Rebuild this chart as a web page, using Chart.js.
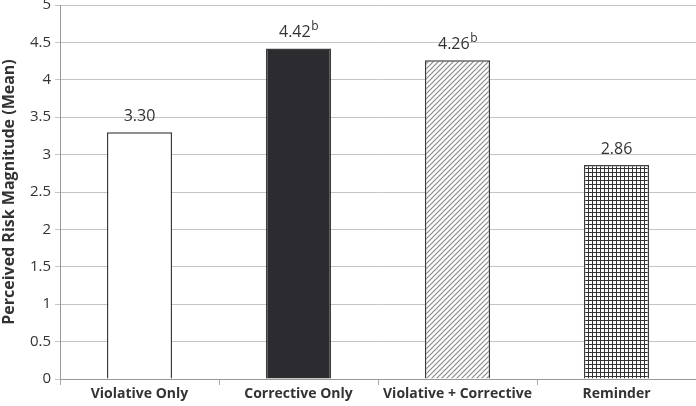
<!DOCTYPE html>
<html>
<head>
<meta charset="utf-8">
<script src="https://cdn.jsdelivr.net/npm/chart.js@4.4.0/dist/chart.umd.min.js"></script>
<style>
  html, body { margin: 0; padding: 0; background: #fff; }
  #wrap { width: 696px; height: 406px; }
</style>
</head>
<body>
<div id="wrap"><canvas id="myChart" width="696" height="406"></canvas></div>
<script>
const categories = ['Violative Only', 'Corrective Only', 'Violative + Corrective', 'Reminder'];
const means = [3.30, 4.42, 4.26, 2.86];
const valueLabels = ['3.30', '4.42', '4.26', '2.86'];
const superscripts = ['', 'b', 'b', ''];
const yTicks = [0, 0.5, 1, 1.5, 2, 2.5, 3, 3.5, 4, 4.5, 5];

const fontFam = '"Open Sans", Lato, sans-serif';

// hatch and grid fills
function hatchPattern() {
    const c = document.createElement('canvas');
    c.width = 5; c.height = 5;
    const g = c.getContext('2d');
    g.fillStyle = '#fff';
    g.fillRect(0, 0, 5, 5);
    g.strokeStyle = '#8a8a8a';
    g.lineWidth = 1.2;
    g.beginPath();
    g.moveTo(-1, 6); g.lineTo(6, -1);
    g.moveTo(-1, 1); g.lineTo(1, -1);
    g.moveTo(4, 6); g.lineTo(6, 4);
    g.stroke();
    return g.createPattern(c, 'repeat');
}
function gridPattern() {
    const c = document.createElement('canvas');
    c.width = 4; c.height = 4;
    const g = c.getContext('2d');
    g.fillStyle = '#fff';
    g.fillRect(0, 0, 4, 4);
    g.fillStyle = '#333';
    g.fillRect(0, 0, 4, 1);
    g.fillRect(0, 0, 1, 4);
    return g.createPattern(c, 'repeat');
}

const labelPlugin = {
    id: 'valueLabels',
    afterDatasetsDraw(chart) {
        const ctx = chart.ctx;
        const meta = chart.getDatasetMeta(0);
        ctx.save();
        meta.data.forEach((bar, i) => {
            const main = valueLabels[i];
            const sup = superscripts[i];
            ctx.font = '16px ' + fontFam;
            const w1 = ctx.measureText(main).width;
            ctx.font = '12px ' + fontFam;
            const w2 = sup ? ctx.measureText(sup).width : 0;
            const x0 = bar.x - (w1 + w2) / 2;
            const yb = bar.y - 11;
            ctx.fillStyle = '#333';
            ctx.textAlign = 'left';
            ctx.textBaseline = 'alphabetic';
            ctx.font = '16px ' + fontFam;
            ctx.fillText(main, x0, yb);
            if (sup) {
                ctx.font = '12px ' + fontFam;
                ctx.fillText(sup, x0 + w1 + 0.5, yb - 7);
            }
        });
        ctx.restore();
    }
};

window.onload = () => {
    const ctx = document.getElementById('myChart').getContext('2d');
    new Chart(ctx, {
        type: 'bar',
        data: {
            labels: categories,
            datasets: [{
                data: means,
                backgroundColor: ['#ffffff', '#2c2c30', hatchPattern(), gridPattern()],
                borderColor: '#3c3c3c',
                borderWidth: 1.5,
                barPercentage: 0.41,
                categoryPercentage: 1.0
            }]
        },
        options: {
            responsive: false,
            animation: false,
            layout: { padding: { top: 5, right: 0, left: 0, bottom: 0 } },
            plugins: {
                legend: { display: false },
                tooltip: { enabled: false }
            },
            scales: {
                x: {
                    grid: {
                        display: true,
                        offset: true,
                        drawOnChartArea: false,
                        tickLength: 6,
                        color: '#aaa'
                    },
                    border: { color: '#999' },
                    ticks: {
                        color: '#333',
                        font: { family: fontFam, size: 14, weight: 'bold' },
                        padding: 1,
                        maxRotation: 0,
                        minRotation: 0,
                        autoSkip: false
                    },
                    afterFit: (s) => { s.height = 27; s.paddingLeft = 0; s.paddingRight = 0; }
                },
                y: {
                    min: 0,
                    max: 5,
                    afterBuildTicks: (s) => { s.ticks = yTicks.map(v => ({ value: v })); },
                    grid: { color: '#c4c4c4', tickLength: 5 },
                    border: { color: '#999' },
                    ticks: {
                        color: '#333',
                        font: { family: fontFam, size: 15 },
                        padding: 4,
                        callback: (v) => String(v)
                    },
                    title: {
                        display: true,
                        text: 'Perceived Risk Magnitude (Mean)',
                        color: '#333',
                        font: { family: fontFam, size: 16, weight: 'bold' },
                        padding: { top: 0, bottom: 0 }
                    },
                    afterFit: (s) => { s.width = 60; s.paddingTop = 0; s.paddingBottom = 0; }
                }
            }
        },
        plugins: [labelPlugin]
    });
};
</script>
</body>
</html>
